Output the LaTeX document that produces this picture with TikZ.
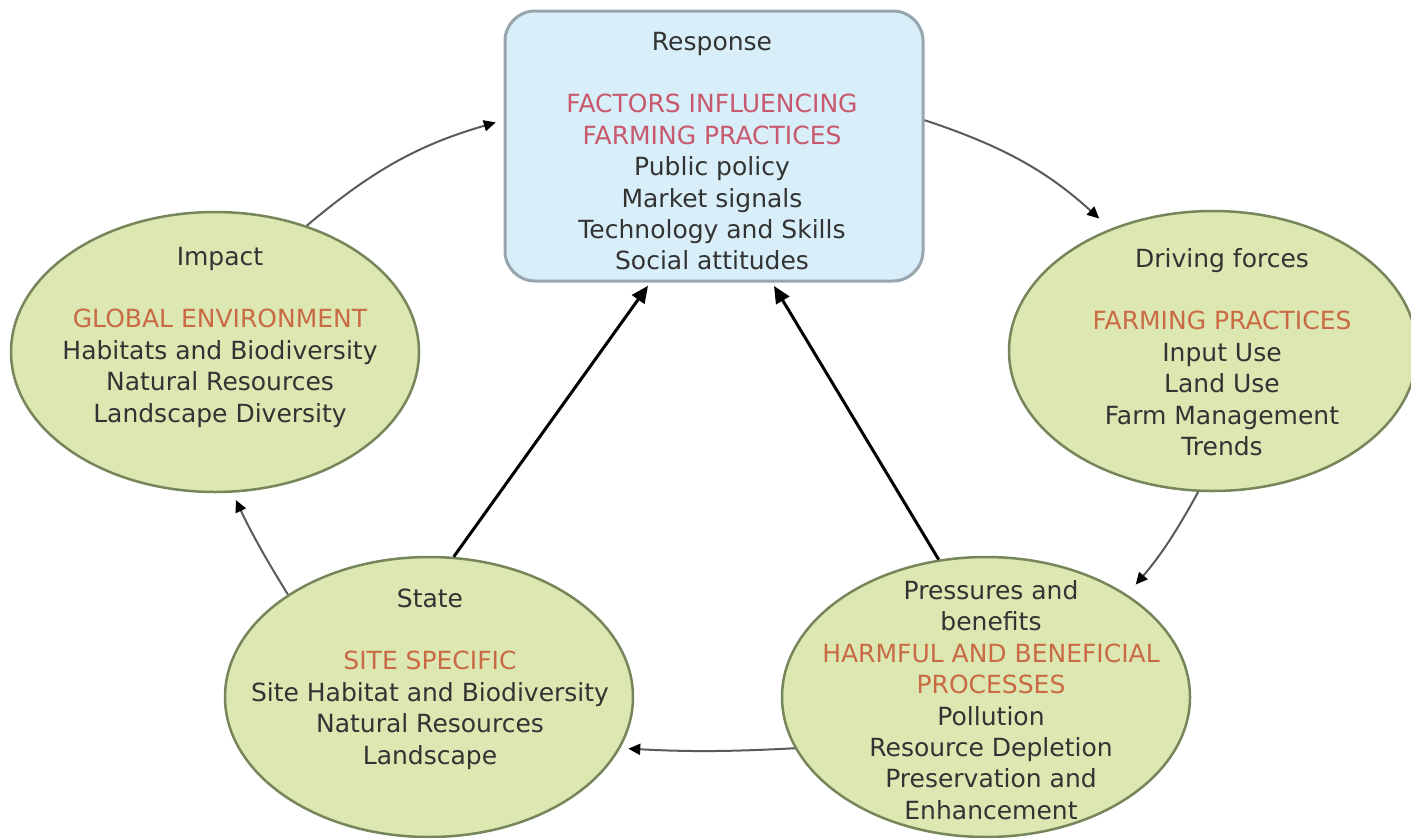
\documentclass[tikz,border=0pt]{standalone}
\usepackage{fontspec}
\setmainfont{DejaVu Sans}
\usetikzlibrary{shapes.geometric,arrows.meta}
\definecolor{ellfill}{HTML}{DCE7B2}
\definecolor{elldraw}{HTML}{76855A}
\definecolor{boxfill}{HTML}{D8EEF8}
\definecolor{boxdraw}{HTML}{97A5AE}
\definecolor{bodytext}{HTML}{333333}
\definecolor{headpink}{HTML}{C8586E}
\definecolor{headorange}{HTML}{C96A44}
\definecolor{linkgray}{HTML}{5A5A5A}
\begin{document}
\begin{tikzpicture}[x=1pt,y=-1pt,
  stage/.style={ellipse,draw=elldraw,line width=2.5pt,fill=ellfill,
    minimum width=408pt,minimum height=280pt,inner sep=0pt},
  respbox/.style={rectangle,rounded corners=30pt,draw=boxdraw,line width=3pt,
    fill=boxfill,minimum width=418pt,minimum height=270pt,inner sep=0pt},
  label/.style={align=center,text=bodytext,inner sep=0pt,
    font=\fontsize{25}{31.4}\selectfont},
  link/.style={draw=linkgray,line width=2pt,
    -{Triangle[length=12pt,width=11pt,fill=black,color=black]}},
  strong/.style={draw=black,line width=3pt,
    -{Triangle[length=17pt,width=15pt]}}]
\useasboundingbox (0,0) rectangle (1411,838);

% stages of the cycle
\node[respbox] (resp) at (714,146) {};
\node[stage] (imp) at (215,352) {};
\node[stage] (drv) at (1213,351) {};
\node[stage] (prs) at (986,697) {};
\node[stage] (sta) at (429,697) {};

% cycle links
\draw[link,shorten >=8pt] (imp.54) to[bend left=12] (resp.173);
\draw[link,shorten >=15pt] (resp.7.6) to[bend left=12] (drv.130);
\draw[link,shorten >=13pt] (drv.264.6) to[bend left=6] (prs.36);
\draw[link,shorten >=8pt] (prs.195.4) to[bend left=3] (sta.345);
\draw[link,shorten >=8pt] (sta.144.6) to[bend left=3] (imp.277.7);

% feedback to the response
\draw[strong,shorten >=4pt] (sta.80.3) -- (resp.245.3);
\draw[strong,shorten >=4pt] (prs.109.3) -- (resp.293);

% texts
\node[label] (respt) at (712,151) {Response\\[31.4pt]
  \textcolor{headpink}{FACTORS INFLUENCING}\\
  \textcolor{headpink}{FARMING PRACTICES}\\
  Public policy\\ Market signals\\ Technology and Skills\\ Social attitudes};
\node[label] (impt) at (220,337) {Impact\\[31.4pt]
  \textcolor{headorange}{GLOBAL ENVIRONMENT}\\
  Habitats and Biodiversity\\ Natural Resources\\ Landscape Diversity};
\node[label] (drvt) at (1222,352) {Driving forces\\[31.4pt]
  \textcolor{headorange}{FARMING PRACTICES}\\
  Input Use\\ Land Use\\ Farm Management\\ Trends};
\node[label] (prst) at (991,700) {Pressures and\\ benefits\\
  \textcolor{headorange}{HARMFUL AND BENEFICIAL}\\
  \textcolor{headorange}{PROCESSES}\\
  Pollution\\ Resource Depletion\\ Preservation and\\ Enhancement};
\node[label] (stat) at (430,679) {State\\[31.4pt]
  \textcolor{headorange}{SITE SPECIFIC}\\
  Site Habitat and Biodiversity\\ Natural Resources\\ Landscape};
\end{tikzpicture}
\end{document}
